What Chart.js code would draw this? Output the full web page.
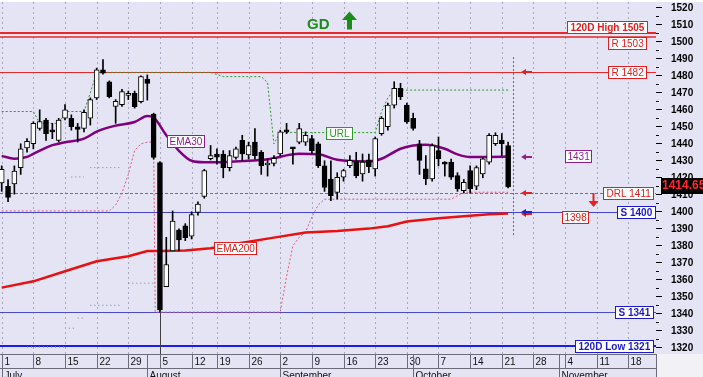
<!DOCTYPE html>
<html>
<head>
<meta charset="utf-8">
<script src="https://cdn.jsdelivr.net/npm/chart.js@4.4.1/dist/chart.umd.min.js"></script>
<style>
html,body{margin:0;padding:0;background:#fff;overflow:hidden;}
canvas{display:block;}
</style>
</head>
<body>
<canvas id="c" width="703" height="377"></canvas>
<script>
// ---------------- data ----------------
// trading-day slots: 0 = 1 July ... (one day missing in the week of 12 Aug)
const weekLabels = ['1','8','15','22','29','5','12','19','26','2','9','16','23','30','7','14','21','28','4','11','18'];
const weekSlots  = [0,5,10,15,20,25,30,34,39,44,49,54,59,64,69,74,79,84,89,94,99];
const monthLabels = ['July','August','September','October','November'];
const monthSlots  = [0,23,44,65,88];

const openP = [1417,1415,1416.4,1426,1437.5,1440,1449,1454,1447.5,1442,
 1455,1455,1450,1449,1455,1467,1483.5,1476.5,1462,1463,
 1468.5,1469.7,1464.7,1478,1457.5,1429,1356,1377,1389.3,1391.7,
 1385.7,1399.6,1409,1431.2,1434,1434,1426,1432,1442,1433.5,
 1441,1435,1427.5,1428.5,1434,1447.5,1437.3,1441,1441,1443,
 1440,1427,1419.3,1411.4,1420.3,1427.2,1429.8,1422.3,1430.6,1425.2,
 1446,1450,1462.7,1472.6,1462.7,1454.9,1440,1425.2,1419.3,1436,
 1429.2,1429.2,1421.3,1412.4,1424.2,1415,1422.3,1429.2,1440,1442,
 1439];
const highP = [1427,1419,1427,1440,1443,1453,1460,1455,1452,1455,
 1463,1457,1452,1460,1467,1484.5,1489.5,1477,1466,1472,
 1471,1471,1480,1480.5,1458,1429.5,1385,1400.5,1390,1393,
 1400,1405.8,1425,1439,1437,1436,1436,1438,1445,1441,
 1449,1436,1431,1433,1448,1452,1437.8,1452,1447,1445,
 1441,1430,1430,1423,1425,1433,1435,1434,1434,1444,
 1456,1464,1476.5,1475.6,1464,1458,1442,1433,1440,1444,
 1429.5,1431,1423,1419,1427,1427,1432,1446,1446.5,1446,
 1441];
const lowP = [1412,1406,1410.4,1422,1435,1437,1448,1442,1443,1441,
 1454,1448,1441,1447,1451,1466,1481,1467,1452,1462,
 1466,1461,1464,1465.7,1431,1341,1356,1377,1377,1383,
 1384,1398,1408,1430.5,1428,1420,1424,1431,1430,1431,
 1431,1422,1421,1427,1433,1446,1428,1440,1439,1434,
 1426,1412,1406.5,1407.5,1418,1426,1420,1418,1423,1421,
 1445,1448,1461,1466,1452,1448,1422,1416,1418,1427,
 1421,1419,1412,1411,1411,1413,1420,1428,1439,1433,
 1414];
const closeP = [1425,1408.5,1424,1437,1441.4,1452,1453,1446,1447,1454,
 1460,1450,1448.5,1458.5,1466,1483.5,1481.5,1467.7,1465,1470.7,
 1469,1461.8,1479.5,1475.5,1432,1342.3,1369,1394.6,1383.4,1384.8,
 1398.4,1404.5,1424.2,1433.1,1432.2,1426,1433,1437,1434,1439,
 1433,1427,1427.8,1431.5,1447,1447,1437,1449,1445,1436,
 1427.2,1414.4,1409.5,1420.3,1424.2,1430.2,1421.3,1429.2,1426.6,1443,
 1455,1462.7,1472.6,1467.7,1452.9,1449,1430.2,1419.3,1439,1431.2,
 1428,1420.3,1413.4,1417.4,1413.4,1426,1431.2,1445,1445,1440,
 1414.65];

const ema30Slots = [0,2,4,5,8,10,13,15,18,21,23,24,26,28,30,32,35,38,42,47,50,53,58,60,63,65,67,70,72,74,77,80];
const ema30 = [1432.9,1431.2,1432.3,1434.1,1439.2,1440.9,1443,1447.2,1450.7,1452.8,1456.3,1455.4,1445,1435.9,1430,1429.1,1429.2,1429.8,1430.9,1434.1,1433.8,1430.6,1429.6,1431.2,1437.1,1439,1439.5,1437.1,1433.8,1432.2,1432.3,1432.5];

const ema200Slots = [0,5,10,15,20,23,25,29,33,38,43,48,53,58,61,64,69,74,77,80];
const ema200 = [1355.4,1359.1,1365,1370.9,1373.9,1376.9,1376.9,1377.3,1378.5,1381.8,1384.8,1387.8,1388.7,1390.1,1391.5,1394.3,1396.2,1397.6,1398.6,1399];

const urlSlots = [0,5,6,9,10,13,14,15,33,35,41,42,43,44,59,60,61,62,80];
const urlLine  = [1459,1459,1452,1452,1459,1459,1470,1482,1482,1479.5,1479.5,1476,1440,1446.6,1446.6,1459,1467,1471.6,1471.6];

const drlSlots = [0,17,18,19,20,21,22,23,24,24.25,44,45,46,47,48,49,50,51,71,73,80];
const drlTrail = [1400.5,1400.5,1404,1411,1422,1436,1440,1441,1441,1341,1341,1362,1380,1385,1388,1397,1404,1407.4,1407.4,1411.5,1411.5];

const lowBandSlots = [4,10,10.5,10.6,11.4,11.5,12,13,13.5,14,19,19.5,20,24];
const lowBand      = [1320.5,1320.5,null,1331.5,1331.5,null,1337.5,1337.5,null,1345,1345,null,1358,1358];
const upBandSlots  = [11,13,13.5,14,19];
const upBand       = [1420.5,1420.5,null,1426,1426];

const levelValues = [1505,1503,1482,1411,1400,1341,1321];
const levelLabels = ['120D High 1505','R 1503','R 1482','DRL 1411','S 1400','S 1341','120D Low 1321'];
const ema30Label = '1431';
const ema200Label = '1398';
const lastPrice = 1414.65;
const yTicks = [1320,1330,1340,1350,1360,1370,1380,1390,1400,1410,1420,1430,1440,1450,1460,1470,1480,1490,1500,1510,1520];

// ---------------- chart ----------------
const FONT = '"Liberation Sans", Arial, sans-serif';
Chart.defaults.font.family = FONT;
const LAV = '#e4e4f4';
const slots = openP.map((_, i) => i);

const levelStyle = [
  {c:'#e82828', w:2, box:'#e02020', bold:true,  right:647, dy:-6},
  {c:'#e82828', w:1.5, box:'#e02020', bold:false, right:646, dy:6.5},
  {c:'#e82828', w:1, box:'#e02020', bold:false, right:646, dy:0},
  {c:'#e84040', w:1, dash:[3,2], box:'#e02020', bold:false, right:653, dy:0},
  {c:'#4444c4', w:1, box:'#1a1acc', bold:true, right:655, dy:0},
  {c:'#4c4cc8', w:1, box:'#1a1acc', bold:true, right:653, dy:0},
  {c:'#1c1cf0', w:2, box:'#1a1acc', bold:true, right:653, dy:-0.5}
];

function seg(ctx, x1, y1, x2, y2) { ctx.beginPath(); ctx.moveTo(x1, y1); ctx.lineTo(x2, y2); ctx.stroke(); }
function labelBox(ctx, text, x, cy, color, bold, alignRight, pad) {
  pad = pad === undefined ? 3 : pad;
  ctx.font = (bold ? 'bold ' : '') + '10px ' + FONT;
  const w = Math.round(ctx.measureText(text).width + pad * 2);
  const h = 12;
  const left = Math.round(alignRight ? x - w : x) + 0.5;
  const top = Math.round(cy - h / 2) + 0.5;
  ctx.fillStyle = '#ffffff';
  ctx.fillRect(left, top, w, h);
  ctx.strokeStyle = color; ctx.lineWidth = 1; ctx.setLineDash([]);
  ctx.strokeRect(left, top, w, h);
  ctx.fillStyle = color; ctx.textAlign = 'left'; ctx.textBaseline = 'middle';
  ctx.fillText(text, left + pad, top + h / 2 + 0.5);
  return {left, top, w, h};
}
function arrowLeft(ctx, x, y, color) {
  ctx.fillStyle = color;
  ctx.beginPath(); ctx.moveTo(x, y); ctx.lineTo(x + 5, y - 3); ctx.lineTo(x + 5, y + 3); ctx.closePath(); ctx.fill();
  ctx.fillRect(x + 5, y - 1, 6, 2);
}
function arrowDown(ctx, x, yTip, color) {
  ctx.fillStyle = color;
  ctx.beginPath(); ctx.moveTo(x, yTip); ctx.lineTo(x - 5, yTip - 6); ctx.lineTo(x + 5, yTip - 6); ctx.closePath(); ctx.fill();
  ctx.fillRect(x - 1, yTip - 14, 2, 8);
}

const decor = {
  id: 'decor',
  beforeDraw(chart) {
    const {ctx, width, height, chartArea: ca} = chart;
    const X = v => chart.scales.x.getPixelForValue(v);
    ctx.save();
    ctx.fillStyle = LAV; ctx.fillRect(0, 0, width, height);
    ctx.fillStyle = '#ffffff'; ctx.fillRect(0, 0, width, ca.top);
    ctx.strokeStyle = '#a8a8c0'; ctx.lineWidth = 1; ctx.setLineDash([2, 3]);
    weekSlots.forEach(s => { const x = Math.round(X(s)) + 0.5; seg(ctx, x, ca.top, x, ca.bottom); });
    ctx.restore();
  },
  beforeDatasetsDraw(chart) {
    const {ctx, chartArea: ca} = chart;
    const Y = v => chart.scales.y.getPixelForValue(v);
    ctx.save();
    levelValues.forEach((v, i) => {
      const st = levelStyle[i];
      const y = Math.round(Y(v)) + (st.w % 2 === 1 ? 0.5 : 0);
      ctx.strokeStyle = st.c; ctx.lineWidth = st.w; ctx.setLineDash(st.dash || []);
      seg(ctx, ca.left, y, ca.right, y);
    });
    ctx.restore();
  },
  afterDatasetsDraw(chart) {
    const {ctx, chartArea: ca} = chart;
    const X = v => chart.scales.x.getPixelForValue(v);
    const Y = v => chart.scales.y.getPixelForValue(v);
    const last = slots.length - 1;
    ctx.save();
    // event marker below the big 5 August candle
    const mk = Math.round(X(25)) + 0.5;
    ctx.strokeStyle = '#404040'; ctx.lineWidth = 1; ctx.setLineDash([]);
    seg(ctx, mk, Y(lowP[25]), mk, ca.bottom);
    // vertical dotted purple line after last bar
    const vx = Math.round(X(last + 0.8)) + 0.5;
    ctx.strokeStyle = '#a040a8'; ctx.setLineDash([2, 2]);
    seg(ctx, vx, Y(1491), vx, Y(1385));
    ctx.setLineDash([]);
    // level label boxes
    let drlBox = null;
    levelValues.forEach((v, i) => {
      const st = levelStyle[i];
      const b = labelBox(ctx, levelLabels[i], st.right, Y(v) + st.dy, st.box, st.bold, true);
      if (i === 3) drlBox = b;
    });
    // indicator labels
    const e30y = Y(ema30[ema30.length - 1]);
    const e200y = Y(ema200[ema200.length - 1]);
    labelBox(ctx, ema30Label, X(89), e30y - 1, '#902090', false, false, 2);
    labelBox(ctx, ema200Label, X(88.5), e200y + 4, '#e02020', false, false, 2);
    labelBox(ctx, 'EMA30', X(26) + 0.5, Y(ema30[12]) + 6, '#902090', false, false, 2);
    labelBox(ctx, 'EMA200', X(33) + 3, Y(ema200[8]), '#e02020', false, false, 2);
    labelBox(ctx, 'URL', X(51) + 1.5, Y(urlLine[14]), '#2a9a2a', false, false, 3);
    // arrows
    const ax = Math.round(X(last + 2.1));
    arrowLeft(ctx, ax, Math.round(Y(levelValues[2])), '#e82020');
    arrowLeft(ctx, ax, Math.round(e30y), '#902090');
    arrowLeft(ctx, ax, Math.round(Y(levelValues[3])), '#e82020');
    arrowLeft(ctx, ax, Math.round(e200y) + 1, '#e82020');
    arrowLeft(ctx, ax, Math.round(Y(levelValues[4])), '#2020d0');
    if (drlBox) arrowDown(ctx, drlBox.left - 10, Math.round(Y(levelValues[3])) + 14, '#e82020');
    // title
    ctx.fillStyle = '#1a8c1a';
    ctx.font = 'bold 15px ' + FONT; ctx.textAlign = 'left'; ctx.textBaseline = 'alphabetic';
    ctx.fillText('GD', 307, 29);
    ctx.beginPath(); ctx.moveTo(349.5, 11.5); ctx.lineTo(357, 20); ctx.lineTo(342, 20); ctx.closePath(); ctx.fill();
    ctx.fillRect(347, 19.5, 5, 10);
    ctx.restore();
  },
  afterDraw(chart) {
    const {ctx, chartArea: ca, width, height} = chart;
    const X = v => chart.scales.x.getPixelForValue(v);
    const Y = v => chart.scales.y.getPixelForValue(v);
    ctx.save();
    // minor y ticks
    ctx.strokeStyle = '#000'; ctx.lineWidth = 1;
    for (let v = yTicks[0] - 5; v <= yTicks[yTicks.length - 1] + 5; v += 10) {
      const y = Math.round(Y(v)) + 0.5;
      if (y > ca.top && y < ca.bottom) seg(ctx, ca.right, y, ca.right + 3, y);
    }
    // bottom date axis
    const top = Math.round(ca.bottom);
    ctx.fillStyle = LAV; ctx.fillRect(0, top, ca.right, height - top);
    ctx.fillStyle = '#f2f2f6'; ctx.fillRect(ca.right, top, width - ca.right, height - top);
    ctx.strokeStyle = '#6c6c78'; ctx.lineWidth = 1;
    seg(ctx, 0, top + 0.5, ca.right, top + 0.5);
    seg(ctx, 0, top + 14.5, ca.right, top + 14.5);
    ctx.font = '10px ' + FONT; ctx.fillStyle = '#111'; ctx.textAlign = 'left';
    ctx.textBaseline = 'middle';
    weekSlots.forEach((s, i) => {
      const x = Math.round(X(s)) + 0.5;
      seg(ctx, x, top, x, top + 14);
      ctx.fillText(weekLabels[i], x + 2, top + 8);
    });
    ctx.textBaseline = 'top';
    monthSlots.forEach((s, i) => {
      const x = Math.round(X(s)) + 0.5;
      seg(ctx, x, top, x, height);
      ctx.fillText(monthLabels[i], x + 2, top + 17);
    });
    seg(ctx, ca.right + 0.5, top, ca.right + 0.5, height);
    // last price tag
    const ly = Y(lastPrice);
    ctx.fillStyle = '#000'; ctx.fillRect(661, Math.round(ly) - 9, 42, 16);
    ctx.fillStyle = '#ff2a2a'; ctx.font = 'bold 12px ' + FONT; ctx.textBaseline = 'middle';
    ctx.fillText(lastPrice.toFixed(2), 662, Math.round(ly) - 1);
    ctx.restore();
  }
};

const lineDs = (label, xs, ys, color, width, dash, extra) => Object.assign({
  type: 'line', label,
  data: xs.map((x, i) => ({x, y: ys[i]})),
  borderColor: color, borderWidth: width, borderDash: dash || [],
  pointRadius: 0, fill: false, tension: 0, spanGaps: false, order: 5
}, extra || {});

new Chart(document.getElementById('c'), {
  type: 'bar',
  data: {
    datasets: [
      {
        label: 'body', order: 0, grouped: false,
        data: slots.map(i => ({x: i, y: [Math.min(openP[i], closeP[i]), Math.max(openP[i], closeP[i])]})),
        backgroundColor: slots.map(i => closeP[i] >= openP[i] ? '#ffffff' : '#000000'),
        borderColor: '#000000', borderWidth: 1, borderSkipped: false,
        barThickness: 5, minBarLength: 2
      },
      {
        label: 'wick', order: 1, grouped: false,
        data: slots.map(i => ({x: i, y: [lowP[i], highP[i]]})),
        backgroundColor: '#000000', borderWidth: 0, barThickness: 1
      },
      lineDs('EMA30', ema30Slots, ema30, '#800080', 2.5, null, {cubicInterpolationMode: 'monotone', order: 3}),
      lineDs('EMA200', ema200Slots, ema200, '#e81010', 2.5, null, {order: 4}),
      lineDs('URL', urlSlots, urlLine, '#2a9a2a', 1, [2, 2], {order: 6}),
      lineDs('DRL trail', drlSlots, drlTrail, '#e05878', 1, [2, 2], {order: 6}),
      lineDs('low band', lowBandSlots, lowBand, '#7a7a9a', 1, [1, 3], {order: 7}),
      lineDs('up band', upBandSlots, upBand, '#7a7a9a', 1, [1, 3], {order: 7})
    ]
  },
  options: {
    responsive: false, animation: false, devicePixelRatio: 1, events: [],
    layout: {padding: {top: 2, bottom: 23, left: 0, right: 0}},
    plugins: {legend: {display: false}, tooltip: {enabled: false}},
    scales: {
      x: {type: 'linear', min: -0.27, max: 103.36, offset: false, display: false, grid: {offset: false}},
      y: {
        position: 'right', min: 1316.35, max: 1523.4,
        afterBuildTicks: s => { s.ticks = yTicks.map(v => ({value: v})); },
        afterFit: s => { s.width = 47; s.paddingTop = 0; s.paddingBottom = 0; },
        ticks: {callback: v => String(v), color: '#000', padding: 9, autoSkip: false,
                font: {family: FONT, size: 10, weight: 'bold'}},
        grid: {drawOnChartArea: false, tickLength: 6, color: '#000', lineWidth: 1},
        border: {display: false}
      }
    }
  },
  plugins: [decor]
});
</script>
</body>
</html>
